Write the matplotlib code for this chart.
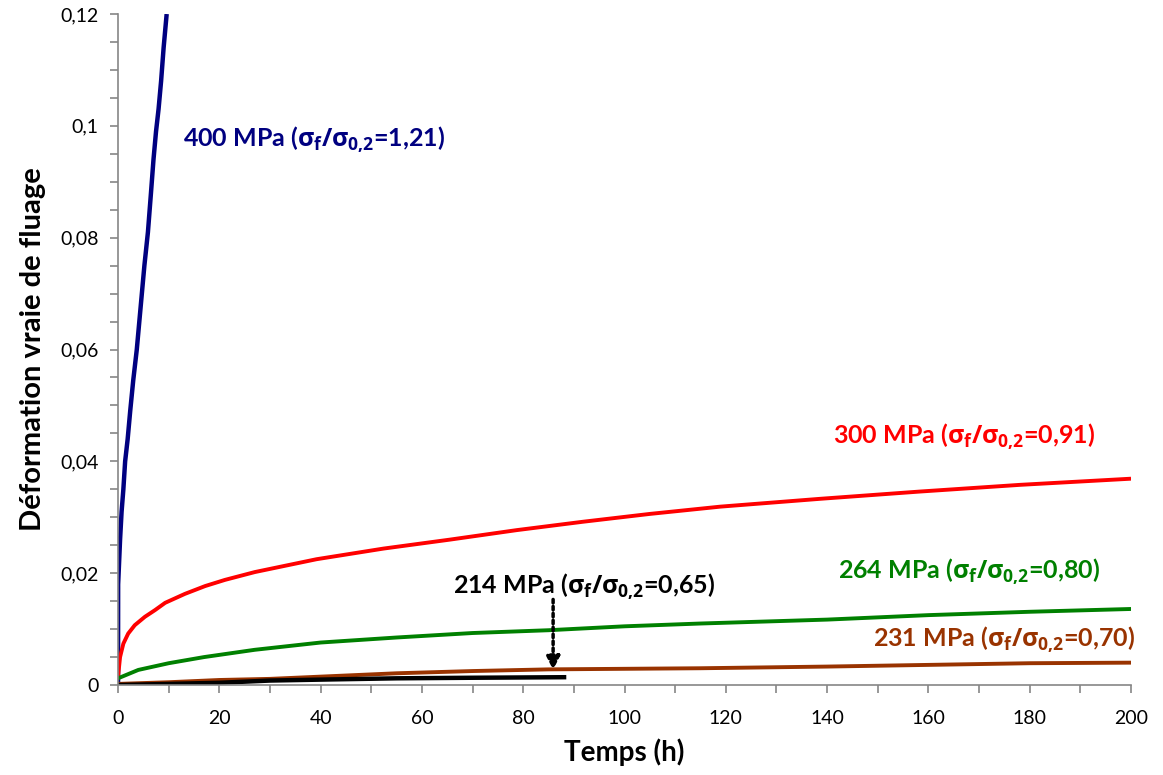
import numpy as np
import matplotlib
matplotlib.use("Agg")
import matplotlib.pyplot as plt
from matplotlib.ticker import MultipleLocator, FuncFormatter

plt.rcParams['font.family'] = ['Lato', 'DejaVu Sans']
plt.rcParams['mathtext.fontset'] = 'custom'
plt.rcParams['mathtext.rm'] = 'Open Sans:bold'
plt.rcParams['mathtext.it'] = 'Open Sans:bold'
plt.rcParams['mathtext.bf'] = 'Open Sans:bold'

# ─── DATA ───────────────────────────────────────────────────────────────────
t_400 = [0, 0.02, 0.4, 0.7, 1.05, 1.4, 1.9, 2.4, 3.0, 3.7, 4.5, 5.2, 5.9, 6.5,
         7.0, 7.5, 8.0, 8.5, 9.0, 9.6]
e_400 = [0, 0.018, 0.026, 0.031, 0.035, 0.040, 0.044, 0.049, 0.0545, 0.060,
         0.068, 0.075, 0.081, 0.088, 0.094, 0.099, 0.103, 0.108, 0.114, 0.120]

t_300 = [0, 0.4, 1.05, 2.0, 3.3, 5.3, 7.3, 9.3, 13.2, 17.2, 21.1, 27, 39.2,
         52.4, 65.5, 78.7, 91.8, 105, 118.9, 138.6, 158.3, 178.1, 200]
e_300 = [0.0015, 0.005, 0.0074, 0.0092, 0.0107, 0.0122, 0.0134, 0.0147, 0.0163,
         0.0177, 0.0188, 0.0202, 0.0225, 0.0244, 0.0260, 0.0277, 0.0292, 0.0306,
         0.0319, 0.0333, 0.0346, 0.0358, 0.0369]

t_264 = [0, 4, 10, 17, 27, 40, 55, 70, 85, 100, 115, 140, 160, 180, 200]
e_264 = [0.0012, 0.0027, 0.0039, 0.0050, 0.0063, 0.0076, 0.0085, 0.0093,
         0.0098, 0.0105, 0.0110, 0.0117, 0.0125, 0.0131, 0.0136]

t_231 = [0, 10, 20, 30, 40, 55, 70, 85, 100, 115, 140, 160, 180, 200]
e_231 = [0.0002, 0.0005, 0.0009, 0.0011, 0.0015, 0.0021, 0.0025, 0.0028,
         0.0029, 0.0030, 0.0033, 0.0036, 0.0039, 0.0040]

t_214 = [0, 10, 20, 30, 42, 55, 70, 88.5]
e_214 = [0, 0.0002, 0.0004, 0.0008, 0.0010, 0.0012, 0.0013, 0.0014]

series = [
    (t_400, e_400, '#000080', r'400 MPa ($\sigma_f/\sigma_{0{,}2}$=1,21)', (12.8, 0.0975)),
    (t_300, e_300, '#FF0000', r'300 MPa ($\sigma_f/\sigma_{0{,}2}$=0,91)', (141.2, 0.0443)),
    (t_264, e_264, '#008000', r'264 MPa ($\sigma_f/\sigma_{0{,}2}$=0,80)', (142.2, 0.0202)),
    (t_231, e_231, '#993300', r'231 MPa ($\sigma_f/\sigma_{0{,}2}$=0,70)', (149.0, 0.0080)),
    (t_214, e_214, '#000000', r'214 MPa ($\sigma_f/\sigma_{0{,}2}$=0,65)', (66.1, 0.0175)),
]

# ─── PLOT ───────────────────────────────────────────────────────────────────
fig = plt.figure(figsize=(11.63, 7.75), dpi=100)
ax = fig.add_axes([0.1015, 0.1161, 0.871, 0.8658])

for t, e, c, lab, pos in series:
    lw = 3.2 if c in ('#000080', '#000000') else 2.8
    ax.plot(t, e, color=c, linewidth=lw, solid_capstyle='butt')
    ax.text(pos[0], pos[1], lab, color=c, fontsize=18, fontweight='bold',
            ha='left', va='center')

# dotted arrow pointing to the 214 MPa curve
ax.annotate('', xy=(85.9, 0.0022), xytext=(85.9, 0.0158),
            arrowprops=dict(arrowstyle='-|>', color='black', lw=2.5,
                            linestyle=(0, (1, 1)), mutation_scale=20))

ax.set_xlim(0, 200)
ax.set_ylim(0, 0.12)
ax.xaxis.set_major_locator(MultipleLocator(20))
ax.xaxis.set_minor_locator(MultipleLocator(10))
ax.yaxis.set_major_locator(MultipleLocator(0.02))
ax.yaxis.set_minor_locator(MultipleLocator(0.005))


def fr(v, pos):
    s = ('%.2f' % v).rstrip('0').rstrip('.')
    return s.replace('.', ',')


ax.yaxis.set_major_formatter(FuncFormatter(fr))

for s in ['top', 'right']:
    ax.spines[s].set_visible(False)
for s in ['left', 'bottom']:
    ax.spines[s].set_color('#868686')
    ax.spines[s].set_linewidth(1.2)
ax.tick_params(which='both', direction='out', color='#868686', width=1.2, length=6,
               labelsize=14)
ax.tick_params(axis='x', pad=12)
ax.tick_params(axis='y', pad=8)

ax.set_xlabel('Temps (h)', fontsize=20, fontweight='bold', labelpad=8)
ax.set_ylabel('Déformation vraie de fluage', fontsize=21, fontweight='bold', labelpad=10)

fig.savefig('out.png', dpi=100)
